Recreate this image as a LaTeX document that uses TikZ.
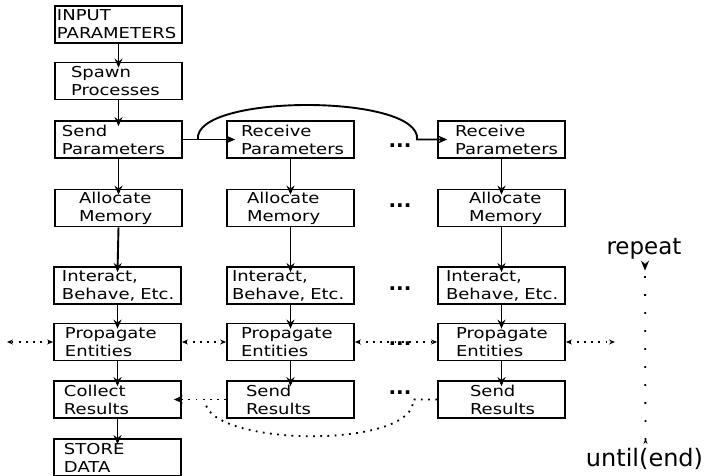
\documentclass[tikz,border=0pt]{standalone}
\usepackage{fontspec}
\setmainfont{DejaVu Sans}
\newfontfamily\boxfont[FakeStretch=1.2]{DejaVu Sans}
\usetikzlibrary{arrows.meta}

% two lines of a box, both indented by #1
\newcommand{\twolines}[3]{\hspace*{#1}#2\\\hspace*{#1}#3}

\begin{document}
\begin{tikzpicture}[
    x=1bp,y=-1bp,
    block/.style={draw,line width=1.8bp,minimum width=127bp,minimum height=37bp,
        text width=127bp,inner sep=0pt,align=left,
        font={\boxfont\fontsize{15bp}{18bp}\selectfont}},
    flow/.style={-{Stealth[length=9bp,width=8bp]},line width=1.9bp},
    dots/.style={line width=1.8bp,dash pattern=on 1.8bp off 5.4bp},
    msg/.style={dots,{Stealth[length=6bp,width=5bp]}-{Stealth[length=6bp,width=5bp]}},
    etc/.style={inner sep=0pt,font={\bfseries\fontsize{20bp}{20bp}\selectfont}},
    big/.style={inner sep=0pt,font={\fontsize{#1}{#1}\selectfont}},
    ]
    \useasboundingbox (0,0) rectangle (706,476);

    % master column
    \node[block] (inp) at (118.5,24.5) {\twolines{2bp}{INPUT}{PARAMETERS}};
    \node[block] (spw) at (118.5,81) {\twolines{16bp}{Spawn}{Processes}};
    \node[block] (sp1) at (118.5,139.5) {\twolines{7bp}{Send}{Parameters}};
    \node[block] (am1) at (118.5,208) {\twolines{24bp}{Allocate}{Memory}};
    \node[block] (ib1) at (117.5,285.5) {\twolines{8bp}{Interact,}{Behave, Etc.}};
    \node[block] (pe1) at (117.5,342) {\twolines{11bp}{Propagate}{Entities}};
    \node[block] (cr1) at (117.5,399.5) {\twolines{10bp}{Collect}{Results}};
    \node[block] (sd1) at (117.5,457.5) {\twolines{10bp}{STORE}{DATA}};

    % worker columns
    \node[block] (rp2) at (290.5,139.5) {\twolines{14bp}{Receive}{Parameters}};
    \node[block] (am2) at (290.5,208) {\twolines{20bp}{Allocate}{Memory}};
    \node[block] (ib2) at (290.5,285.5) {\twolines{5bp}{Interact,}{Behave, Etc.}};
    \node[block] (pe2) at (290.5,342) {\twolines{14bp}{Propagate}{Entities}};
    \node[block] (sr2) at (290.5,399.5) {\twolines{19bp}{Send}{Results}};

    \node[block] (rp3) at (501.5,139.5) {\twolines{17bp}{Receive}{Parameters}};
    \node[block] (am3) at (501.5,208) {\twolines{31bp}{Allocate}{Memory}};
    \node[block] (ib3) at (501.5,285.5) {\twolines{8bp}{Interact,}{Behave, Etc.}};
    \node[block] (pe3) at (501.5,342) {\twolines{18bp}{Propagate}{Entities}};
    \node[block] (sr3) at (501.5,399.5) {\twolines{32bp}{Send}{Results}};

    % dots between the columns
    \node[etc] (etc1) at (400,146) {...};
    \node[etc] (etc2) at (400,206) {...};
    \node[etc] (etc3) at (400,289) {...};
    \node[etc] (etc4) at (400,344) {...};
    \node[etc] (etc5) at (400,393) {...};

    % downward flow
    \draw[flow] (inp.south) -- ([yshift=-6bp]spw.north);
    \draw[flow] (spw.south) -- ([yshift=-6bp]sp1.north);
    \draw[flow] (sp1.south) -- ([yshift=-6bp]am1.north);
    \draw[flow] (am1.south) -- ([yshift=-6bp]ib1.north);
    \draw[flow] (ib1.south) -- ([yshift=-6bp]pe1.north);
    \draw[flow] (pe1.south) -- ([yshift=-6bp]cr1.north);
    \draw[flow] (cr1.south) -- ([yshift=-6bp]sd1.north);
    \draw[flow] (rp2.south) -- ([yshift=-6bp]am2.north);
    \draw[flow] (am2.south) -- ([yshift=-6bp]ib2.north);
    \draw[flow] (ib2.south) -- ([yshift=-6bp]pe2.north);
    \draw[flow] (pe2.south) -- ([yshift=-6bp]sr2.north);
    \draw[flow] (rp3.south) -- ([yshift=-6bp]am3.north);
    \draw[flow] (am3.south) -- ([yshift=-6bp]ib3.north);
    \draw[flow] (ib3.south) -- ([yshift=-6bp]pe3.north);
    \draw[flow] (pe3.south) -- ([yshift=-6bp]sr3.north);

    % parameters out to the workers
    \draw[flow] (sp1.east) -- ([xshift=9bp]rp2.west);
    \draw[flow] ([xshift=15bp]sp1.east) .. controls +(-5,-46) and +(4,-46)
        .. ([xshift=-20bp]rp3.west) -- ([xshift=10bp]rp3.west);

    % entity exchange
    \coordinate (lft) at (7,342);
    \coordinate (rgt) at (615,342);
    \draw[msg] (pe1.west) -- (lft);
    \draw[msg] (pe1.east) -- (pe2.west);
    \draw[msg] (pe2.east) -- (pe3.west);
    \draw[msg] (pe3.east) -- (rgt);

    % results back to the master
    \coordinate (join) at (205,401);
    \draw[dots,-{Stealth[length=9bp,width=8bp]}] (sr2.west) -- ([xshift=-8bp]cr1.east);
    \draw[dots] (sr3.west) -- ([xshift=-24bp]sr3.west)
        .. controls +(3,50) and +(3,46) .. (join);

    % loop
    \node[big=23bp] (rep) at (644,249) {repeat};
    \node[big=24bp] (until) at (644.5,459) {until(end)};
    \draw[line width=1.8bp,dash pattern=on 1.8bp off 16.2bp,
        {Stealth[reversed,length=6bp,width=4bp]}-{Stealth[reversed,length=10bp,width=8bp]}]
        ([xshift=1bp,yshift=4bp]until.north) -- ([xshift=1bp,yshift=-1bp]rep.south);
\end{tikzpicture}
\end{document}
